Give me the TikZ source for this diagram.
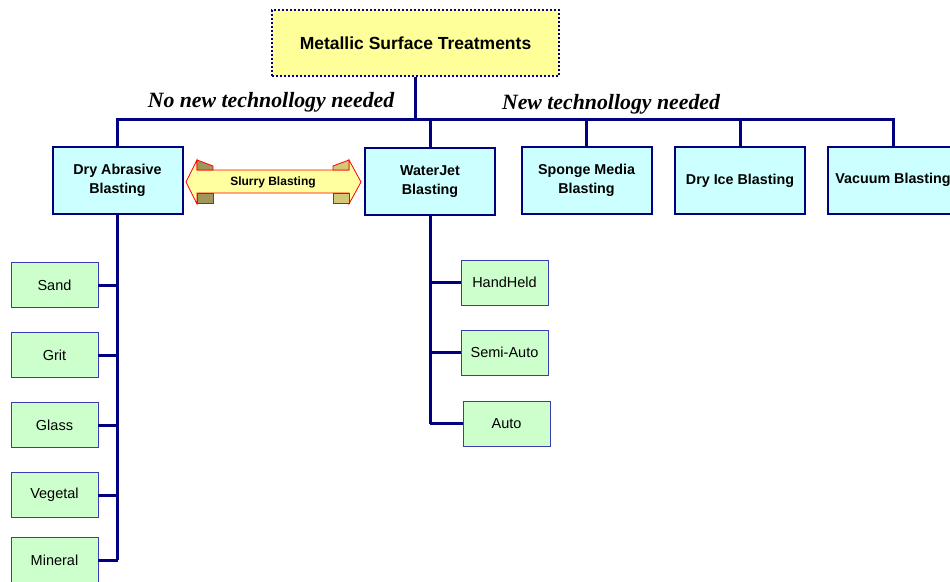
\documentclass[tikz,border=0pt]{standalone}
\usepackage{fontspec}
\setmainfont{Liberation Sans}
\newfontfamily\labelfont{Liberation Serif}
\usetikzlibrary{positioning}

\definecolor{navy}{RGB}{0,0,128}
\definecolor{topfill}{RGB}{255,255,153}
\definecolor{cyanfill}{RGB}{204,255,255}
\definecolor{greenfill}{RGB}{204,255,204}
\definecolor{childline}{RGB}{60,60,180}
\definecolor{bannerfill}{RGB}{255,255,160}
\definecolor{foldfill}{RGB}{160,150,90}
\definecolor{foldfillb}{RGB}{210,200,120}

\tikzset{
    rootbox/.style={draw=navy, line width=2pt, dotted, fill=topfill, minimum width=287pt, minimum height=66pt, inner sep=0pt, font=\fontsize{17.5}{20}\selectfont\bfseries},
    methodbox/.style={draw=navy, line width=2pt, fill=cyanfill, minimum width=130pt, minimum height=67pt, inner sep=0pt, align=center, font=\fontsize{14.3}{19}\selectfont\bfseries},
    leafbox/.style={draw=childline, line width=0.8pt, fill=greenfill, minimum width=87pt, minimum height=45pt, inner sep=0pt, font=\fontsize{14.5}{16}\selectfont},
    bus/.style={draw=navy, line width=3pt},
    groupnote/.style={font=\fontsize{21.8}{24}\selectfont\labelfont\bfseries\itshape}
}

\begin{document}
\begin{tikzpicture}[x=1pt,y=-1pt]
        \useasboundingbox (0,0) rectangle (950,581);

        \node[rootbox] (root) at (415.5,43) {Metallic Surface Treatments};

        \node[methodbox] (dry) at (117.5,180.5) {Dry Abrasive\\Blasting};
        \node[methodbox] (water) at (430,181.5) {WaterJet\\Blasting};
        \node[methodbox] (sponge) at (586.5,180.5) {Sponge Media\\Blasting};
        \node[methodbox] (ice) at (740,180.5) {Dry Ice Blasting};
        \node[methodbox] (vac) at (893,180) {Vacuum Blasting};

        \coordinate (bus) at (415.5,119);
        \draw[bus] (root.south) -- (bus);
        \draw[bus] (dry.north) -- (dry.north |- bus) -- (vac.north |- bus) -- (vac.north);
        \foreach \n in {water,sponge,ice}
            \draw[bus] (\n.north) -- (\n.north |- bus);

        \node[groupnote] (oldtech) at (271,102) {No new technollogy needed};
        \node[groupnote] (newtech) at (611,104) {New technollogy needed};

        % slurry banner between the two
        \filldraw[draw=red, line width=0.8pt, fill=bannerfill]
            (186,182) -- (197,160) -- (197,170) -- (349,170) -- (349,160) -- (361,182)
            -- (349,204) -- (349,193) -- (197,193) -- (197,204) -- cycle;
        \filldraw[draw=red, line width=0.8pt, fill=foldfill] (197,160) -- (213,166) -- (213,170) -- (197,170) -- cycle;
        \filldraw[draw=red, line width=0.8pt, fill=foldfill] (197,193) rectangle (213,203);
        \filldraw[draw=red, line width=0.8pt, fill=foldfillb] (349,160) -- (333,166) -- (333,170) -- (349,170) -- cycle;
        \filldraw[draw=red, line width=0.8pt, fill=foldfillb] (333,193) rectangle (349,203);
        \node[font=\fontsize{12}{14}\selectfont\bfseries] (slurry) at (273,182) {Slurry Blasting};

        % dry abrasive media
        \foreach \name/\y [count=\i] in {Sand/285,Grit/355,Glass/425,Vegetal/495,Mineral/560} {
            \node[leafbox] (media\i) at (54.5,\y) {\name};
            \draw[bus] (media\i.east) -- (media\i.east -| dry.south);
        }
        \draw[bus] (dry.south) -- (dry.south |- media5.east);

        % waterjet modes
        \node[leafbox] (hand) at (504.5,282.5) {HandHeld};
        \node[leafbox] (semi) at (504.5,352.5) {Semi-Auto};
        \node[leafbox] (auto) at (506.5,423.5) {Auto};
        \draw[bus] (water.south) -- (water.south |- auto.west);
        \foreach \n in {hand,semi,auto}
            \draw[bus] (\n.west) -- (\n.west -| water.south);

    \end{tikzpicture}
\end{document}
